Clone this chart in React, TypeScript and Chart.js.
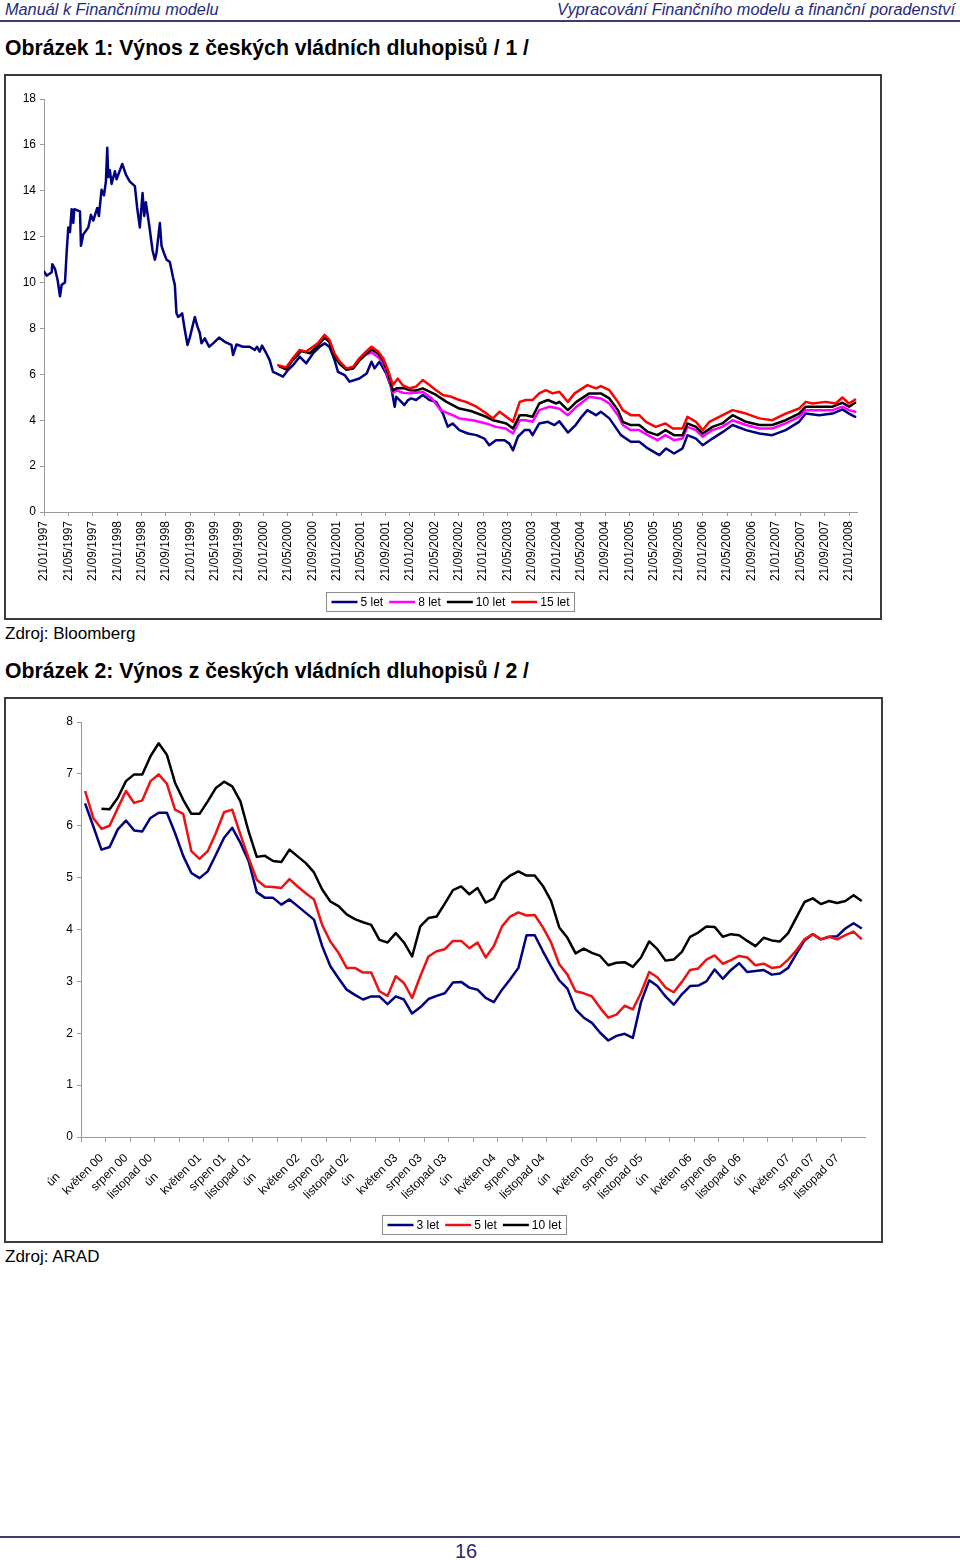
import React, { useEffect, useRef } from 'react';
import { Chart, registerables } from 'chart.js';

Chart.register(...registerables);

const FONT = '"Liberation Sans", Arial, Helvetica, sans-serif';

// ---------- Chart 1: daily yields 1997-2008 (x = months since 21/01/1997) ----------
const dateTickMonths = [0, 4, 8, 12, 16, 20, 24, 28, 32, 36, 40, 44, 48, 52, 56, 60, 64, 68, 72, 76, 80, 84, 88, 92, 96, 100, 104, 108, 112, 116, 120, 124, 128, 132];
const dateTickLabels = [
  '21/01/1997', '21/05/1997', '21/09/1997', '21/01/1998', '21/05/1998', '21/09/1998',
  '21/01/1999', '21/05/1999', '21/09/1999', '21/01/2000', '21/05/2000', '21/09/2000',
  '21/01/2001', '21/05/2001', '21/09/2001', '21/01/2002', '21/05/2002', '21/09/2002',
  '21/01/2003', '21/05/2003', '21/09/2003', '21/01/2004', '21/05/2004', '21/09/2004',
  '21/01/2005', '21/05/2005', '21/09/2005', '21/01/2006', '21/05/2006', '21/09/2006',
  '21/01/2007', '21/05/2007', '21/09/2007', '21/01/2008',
];

const let5: [number, number][] = [
  [0, 10.48], [0.44, 10.3], [1.26, 10.45], [1.36, 10.8], [1.8, 10.6], [2.24, 10.1], [2.62, 9.4], [2.89, 9.9], [3.44, 10.0], [3.71, 11.3],
  [3.98, 12.4], [4.26, 12.2], [4.53, 13.2], [4.8, 12.6], [4.97, 13.2], [5.9, 13.1], [6.06, 11.6], [6.44, 12.1], [7.26, 12.4], [7.7, 12.95],
  [8.08, 12.7], [8.73, 13.25], [9.0, 12.9], [9.44, 14.05], [9.83, 13.8], [10.15, 14.4], [10.37, 15.87], [10.53, 14.6], [10.8, 14.9], [11.08, 14.3],
  [11.63, 14.85], [11.9, 14.5], [12.83, 15.17], [13.43, 14.7], [14.08, 14.4], [14.9, 14.2], [15.28, 13.25], [15.72, 12.4], [16.16, 13.9], [16.43, 12.9],
  [16.7, 13.5], [17.25, 12.5], [17.8, 11.4], [18.18, 11.0], [18.45, 11.3], [19.0, 12.6], [19.27, 11.6], [19.65, 11.3], [20.09, 11.0], [20.63, 10.9],
  [21.18, 10.2], [21.45, 9.9], [21.72, 8.66], [22.0, 8.5], [22.65, 8.66], [23.09, 7.93], [23.53, 7.28], [23.9, 7.6], [24.34, 8.08], [24.73, 8.5],
  [25.16, 8.08], [25.55, 7.8], [25.82, 7.35], [26.36, 7.57], [27.07, 7.2], [27.73, 7.35], [28.71, 7.6], [29.64, 7.42], [30.73, 7.28], [31.0, 6.84],
  [31.55, 7.3], [32.64, 7.2], [33.73, 7.2], [34.55, 7.06], [34.93, 7.2], [35.37, 6.99], [35.75, 7.25], [36.46, 6.91], [37.0, 6.62], [37.55, 6.11],
  [38.1, 6.04], [39.19, 5.9], [40.0, 6.19], [40.83, 6.4], [41.92, 6.77], [43.0, 6.48], [44.1, 6.91], [45.2, 7.2], [46.0, 7.35], [46.8, 7.2],
  [47.65, 6.62], [48.2, 6.11], [49.3, 5.97], [50.1, 5.68], [51.7, 5.82], [52.9, 6.04], [53.7, 6.55], [54.2, 6.26], [55.0, 6.55], [56.1, 6.04],
  [56.9, 5.46], [57.5, 4.59], [57.75, 5.02], [58.3, 4.88], [59.1, 4.66], [59.7, 4.88], [60.2, 4.95], [61.0, 4.88], [62.1, 5.1], [63.2, 4.88],
  [64.3, 4.8], [65.4, 4.3], [66.2, 3.72], [67.0, 3.86], [68.1, 3.57], [69.5, 3.42], [70.9, 3.35], [72.2, 3.2], [73.0, 2.91], [74.1, 3.13],
  [75.5, 3.13], [76.3, 2.98], [76.9, 2.69], [77.7, 3.28], [78.8, 3.57], [79.6, 3.57], [80.1, 3.35], [81.2, 3.86], [82.6, 3.93], [83.7, 3.79],
  [84.5, 3.95], [85.9, 3.46], [87.2, 3.8], [88.0, 4.1], [89.1, 4.44], [90.5, 4.22], [91.3, 4.37], [92.7, 4.08], [94.6, 3.35], [96.2, 3.06],
  [97.6, 3.06], [99.0, 2.77], [100.9, 2.48], [102.0, 2.77], [103.3, 2.55], [104.7, 2.77], [105.5, 3.35], [106.9, 3.2], [108.0, 2.91], [109.6, 3.2],
  [111.3, 3.49], [112.9, 3.79], [115.1, 3.57], [117.3, 3.42], [119.4, 3.35], [121.6, 3.57], [123.8, 3.93], [124.9, 4.29], [127.1, 4.22], [129.3, 4.29],
  [130.9, 4.47], [132.0, 4.29], [133.0, 4.15],
];

const let8: [number, number][] = [
  [50.7, 6.28], [51.7, 6.62], [52.8, 6.86], [53.7, 6.95], [54.8, 6.75], [55.6, 6.5], [56.4, 5.9], [57.2, 5.2], [57.8, 5.3], [58.8, 5.2],
  [59.9, 5.17], [61.0, 5.2], [62.1, 5.24], [63.6, 4.95], [65.0, 4.44], [67.0, 4.22], [68.1, 4.08], [70.3, 4.0], [72.5, 3.86], [74.1, 3.71],
  [75.7, 3.64], [76.9, 3.42], [78.0, 4.0], [79.0, 4.0], [80.1, 3.93], [81.2, 4.44], [82.9, 4.59], [84.5, 4.5], [85.9, 4.22], [87.3, 4.59],
  [89.4, 5.02], [91.3, 4.95], [92.7, 4.73], [94.1, 4.22], [94.9, 3.79], [96.2, 3.57], [97.6, 3.57], [99.0, 3.35], [100.6, 3.13], [101.9, 3.35],
  [103.3, 3.13], [104.7, 3.2], [105.5, 3.71], [106.9, 3.57], [108.0, 3.28], [109.6, 3.57], [111.2, 3.71], [112.9, 4.0], [115.1, 3.79], [117.3, 3.64],
  [119.4, 3.64], [121.6, 3.86], [123.8, 4.15], [124.9, 4.44], [127.1, 4.44], [129.3, 4.44], [130.9, 4.59], [132.0, 4.44], [133.0, 4.37],
];

const let10: [number, number][] = [
  [38.6, 6.35], [39.7, 6.22], [40.8, 6.62], [42.2, 7.02], [43.6, 6.92], [44.9, 7.25], [46.0, 7.6], [46.8, 7.4], [47.65, 6.78], [48.5, 6.45],
  [49.6, 6.2], [50.7, 6.25], [51.7, 6.6], [52.8, 6.88], [53.7, 7.08], [54.8, 6.9], [55.6, 6.6], [56.4, 6.05], [57.2, 5.3], [57.8, 5.39],
  [59.0, 5.4], [59.9, 5.31], [61.0, 5.3], [62.1, 5.39], [63.2, 5.25], [64.3, 5.1], [66.0, 4.8], [68.1, 4.51], [70.0, 4.4], [72.5, 4.15],
  [73.6, 4.0], [74.7, 3.93], [75.8, 3.86], [76.9, 3.64], [78.0, 4.22], [79.0, 4.22], [80.1, 4.15], [81.2, 4.73], [82.6, 4.88], [84.0, 4.73],
  [84.5, 4.8], [85.9, 4.44], [87.3, 4.8], [89.4, 5.17], [91.3, 5.17], [92.7, 4.95], [94.1, 4.44], [94.9, 3.93], [96.2, 3.79], [97.6, 3.79],
  [99.0, 3.49], [100.6, 3.35], [101.9, 3.57], [103.3, 3.35], [104.7, 3.35], [105.5, 3.86], [106.9, 3.71], [108.0, 3.42], [109.6, 3.71], [111.2, 3.86],
  [112.9, 4.22], [115.1, 3.93], [117.3, 3.79], [119.4, 3.79], [121.6, 4.0], [123.8, 4.29], [124.9, 4.59], [127.1, 4.59], [129.3, 4.59], [130.9, 4.76],
  [132.0, 4.59], [133.0, 4.76],
];

const let15: [number, number][] = [
  [38.4, 6.4], [39.7, 6.3], [40.8, 6.7], [41.9, 7.06], [43.0, 6.99], [44.1, 7.2], [44.9, 7.35], [46.0, 7.72], [46.8, 7.5], [47.65, 6.9],
  [48.5, 6.55], [49.6, 6.26], [50.7, 6.33], [51.7, 6.7], [52.8, 6.99], [53.7, 7.2], [54.8, 6.99], [55.6, 6.7], [56.4, 6.19], [57.2, 5.53],
  [58.0, 5.82], [58.8, 5.53], [59.9, 5.39], [61.0, 5.46], [62.1, 5.75], [63.2, 5.53], [64.3, 5.31], [65.4, 5.1], [66.8, 5.02], [68.1, 4.88],
  [69.2, 4.8], [70.9, 4.59], [72.5, 4.3], [73.6, 4.08], [74.7, 4.37], [75.8, 4.15], [76.9, 3.93], [78.0, 4.8], [79.0, 4.88], [80.1, 4.88],
  [81.2, 5.17], [82.3, 5.31], [83.4, 5.17], [84.5, 5.24], [85.9, 4.8], [87.0, 5.17], [89.1, 5.53], [90.5, 5.39], [91.3, 5.49], [92.7, 5.31],
  [94.1, 4.8], [94.9, 4.44], [96.2, 4.22], [97.6, 4.22], [98.7, 3.93], [100.3, 3.71], [101.9, 3.86], [103.1, 3.64], [104.7, 3.64], [105.5, 4.15],
  [106.9, 3.93], [108.0, 3.57], [109.1, 3.93], [110.7, 4.15], [112.9, 4.44], [115.1, 4.29], [117.3, 4.08], [119.4, 4.0], [121.6, 4.29], [123.8, 4.51],
  [124.9, 4.8], [126.0, 4.73], [128.2, 4.8], [129.8, 4.73], [130.9, 4.99], [132.0, 4.73], [133.0, 4.9],
];

// ---------- Chart 2: monthly yields Feb 2000 - Jan 2008 ----------
const monthNames = ['leden', 'únor', 'březen', 'duben', 'květen', 'červen', 'červenec', 'srpen', 'září', 'říjen', 'listopad', 'prosinec'];
const yearSuffixes = ['00', '01', '02', '03', '04', '05', '06', '07', '08'];
const categories: string[] = [];
for (let k = 0; k < 96; k++) {
  const mi = (1 + k) % 12;
  const yi = Math.floor((1 + k) / 12);
  categories.push(monthNames[mi] + ' ' + yearSuffixes[yi]);
}

const yield3 = [
  6.43, 5.99, 5.54, 5.59, 5.93, 6.1, 5.91, 5.89, 6.15, 6.25, 6.25, 5.86, 5.42, 5.09, 4.99, 5.12, 5.44, 5.77, 5.96, 5.67,
  5.32, 4.72, 4.61, 4.61, 4.48, 4.58, 4.45, 4.32, 4.19, 3.68, 3.29, 3.06, 2.84, 2.74, 2.65, 2.71, 2.71, 2.56, 2.71, 2.65,
  2.38, 2.5, 2.66, 2.72, 2.77, 2.98, 2.99, 2.88, 2.84, 2.68, 2.6, 2.84, 3.04, 3.26, 3.89, 3.89, 3.58, 3.29, 3.02, 2.86,
  2.46, 2.3, 2.2, 2.01, 1.86, 1.95, 1.99, 1.91, 2.6, 3.02, 2.91, 2.71, 2.55, 2.75, 2.91, 2.92, 3.0, 3.23, 3.05, 3.22,
  3.35, 3.18, 3.2, 3.22, 3.13, 3.15, 3.26, 3.53, 3.79, 3.91, 3.81, 3.86, 3.87, 4.02, 4.12, 4.02,
];
const yield5 = [
  6.67, 6.15, 5.94, 6.0, 6.34, 6.67, 6.44, 6.49, 6.86, 6.99, 6.81, 6.31, 6.23, 5.51, 5.36, 5.51, 5.86, 6.26, 6.31, 5.83,
  5.38, 4.96, 4.83, 4.82, 4.8, 4.97, 4.83, 4.7, 4.58, 4.09, 3.77, 3.55, 3.26, 3.26, 3.17, 3.17, 2.81, 2.72, 3.1, 2.97,
  2.68, 3.1, 3.48, 3.58, 3.62, 3.78, 3.78, 3.64, 3.75, 3.46, 3.68, 4.06, 4.25, 4.33, 4.27, 4.28, 4.04, 3.75, 3.33, 3.13,
  2.81, 2.77, 2.71, 2.49, 2.3, 2.36, 2.53, 2.46, 2.78, 3.18, 3.08, 2.88, 2.79, 2.99, 3.22, 3.25, 3.42, 3.5, 3.34, 3.41,
  3.49, 3.46, 3.31, 3.34, 3.26, 3.28, 3.42, 3.6, 3.81, 3.91, 3.81, 3.86, 3.81, 3.89, 3.96, 3.81,
];
const yield10 = [
  null, null, 6.33, 6.32, 6.54, 6.86, 6.99, 6.99, 7.34, 7.59, 7.37, 6.83, 6.5, 6.23, 6.23, 6.47, 6.73, 6.85, 6.76, 6.47,
  5.89, 5.4, 5.42, 5.32, 5.3, 5.54, 5.41, 5.28, 5.1, 4.77, 4.54, 4.45, 4.29, 4.2, 4.14, 4.09, 3.8, 3.75, 3.93, 3.75,
  3.48, 4.06, 4.22, 4.25, 4.5, 4.76, 4.83, 4.68, 4.8, 4.52, 4.6, 4.91, 5.04, 5.12, 5.04, 5.04, 4.84, 4.55, 4.04, 3.84,
  3.54, 3.63, 3.55, 3.49, 3.31, 3.36, 3.37, 3.28, 3.46, 3.77, 3.62, 3.4, 3.42, 3.57, 3.86, 3.94, 4.06, 4.05, 3.86, 3.91,
  3.89, 3.78, 3.68, 3.84, 3.79, 3.77, 3.93, 4.23, 4.53, 4.6, 4.49, 4.55, 4.51, 4.55, 4.66, 4.55,
];

const AXIS_GREY = '#9a9a9a';

function makeLegend(top: number) {
  return {
    id: 'boxLegend',
    afterDraw(chart: any) {
      const ctx = chart.ctx as CanvasRenderingContext2D;
      ctx.save();
      ctx.font = '12px ' + FONT;
      const items = chart.data.datasets.map((d: any) => ({ label: d.label as string, color: d.borderColor as string }));
      const lineLen = 26, gap = 3, itemGap = 6, padX = 5, h = 19;
      const widths = items.map((it: any) => lineLen + gap + ctx.measureText(it.label).width);
      const total = widths.reduce((a: number, b: number) => a + b, 0) + itemGap * (items.length - 1) + padX * 2;
      const cx = (chart.chartArea.left + chart.chartArea.right) / 2;
      const left = Math.round(cx - total / 2) + 0.5;
      const t = top + 0.5;
      ctx.strokeStyle = '#8c8c8c';
      ctx.lineWidth = 1;
      ctx.strokeRect(left, t, Math.round(total), h);
      let x = left + padX;
      const yMid = t + h / 2;
      items.forEach((it: any, i: number) => {
        ctx.beginPath();
        ctx.strokeStyle = it.color;
        ctx.lineWidth = 2.5;
        ctx.moveTo(x, yMid);
        ctx.lineTo(x + lineLen, yMid);
        ctx.stroke();
        ctx.fillStyle = '#000';
        ctx.textBaseline = 'middle';
        ctx.textAlign = 'left';
        ctx.fillText(it.label, x + lineLen + gap, yMid + 0.5);
        x += widths[i] + itemGap;
      });
      ctx.restore();
    },
  };
}

const tickFont = { family: FONT, size: 12 };

function chart1Config(): any {
  const toPts = (arr: [number, number][]) => arr.map(([x, y]) => ({ x, y }));
  return {
    type: 'line',
    data: {
      datasets: [
        { label: '5 let', data: toPts(let5), borderColor: '#000080', order: 4 },
        { label: '8 let', data: toPts(let8), borderColor: '#ff00ff', order: 3 },
        { label: '10 let', data: toPts(let10), borderColor: '#000000', order: 2 },
        { label: '15 let', data: toPts(let15), borderColor: '#ff0000', order: 1 },
      ],
    },
    options: {
      responsive: false,
      animation: false,
      events: [],
      layout: { padding: { left: 0, right: 23, top: 23, bottom: 36 } },
      elements: {
        point: { radius: 0 },
        line: { borderWidth: 2.5, tension: 0, borderJoinStyle: 'round', borderCapStyle: 'round' },
      },
      plugins: { legend: { display: false }, tooltip: { enabled: false } },
      scales: {
        x: {
          type: 'linear',
          min: 0,
          max: 133.3,
          afterBuildTicks: (axis: any) => {
            axis.ticks = dateTickMonths.map((v) => ({ value: v }));
          },
          afterFit: (s: any) => { s.height = 70; },
          ticks: {
            autoSkip: false,
            minRotation: 90,
            maxRotation: 90,
            padding: 5,
            color: '#000',
            font: tickFont,
            callback: (v: number) => dateTickLabels[dateTickMonths.indexOf(v)] ?? '',
          },
          grid: { drawOnChartArea: false, drawTicks: true, tickLength: 4, color: AXIS_GREY },
          border: { display: true, color: AXIS_GREY, width: 1 },
        },
        y: {
          min: 0,
          max: 18,
          afterFit: (s: any) => { s.width = 38; },
          ticks: { stepSize: 2, padding: 4, color: '#000', font: tickFont },
          grid: { drawOnChartArea: false, drawTicks: true, tickLength: 4, color: AXIS_GREY },
          border: { display: true, color: AXIS_GREY, width: 1 },
        },
      },
    },
    plugins: [makeLegend(516)],
  };
}

// The "únor" labels are clipped to "ún" in the original; the trailing spaces keep
// the visible part where the beginning of the full label would sit.
function shortLabel(label: string) {
  return label.startsWith('únor') ? 'ún' + '\u00a0'.repeat(8) : label;
}

function chart2Config(): any {
  return {
    type: 'line',
    data: {
      labels: categories,
      datasets: [
        { label: '3 let', data: yield3, borderColor: '#000080', order: 3 },
        { label: '5 let', data: yield5, borderColor: '#ee1111', order: 2 },
        { label: '10 let', data: yield10, borderColor: '#000000', order: 1 },
      ],
    },
    options: {
      responsive: false,
      animation: false,
      events: [],
      layout: { padding: { left: 0, right: 13, top: 23, bottom: 34 } },
      elements: {
        point: { radius: 0 },
        line: { borderWidth: 2.5, tension: 0, borderJoinStyle: 'round' },
      },
      plugins: { legend: { display: false }, tooltip: { enabled: false } },
      scales: {
        x: {
          type: 'category',
          offset: true,
          afterFit: (s: any) => { s.height = 70; },
          ticks: {
            autoSkip: false,
            minRotation: 45,
            maxRotation: 45,
            padding: 9,
            labelOffset: -8,
            color: '#000',
            font: tickFont,
            callback: (_v: any, i: number) => (i % 3 === 0 ? shortLabel(categories[i]) : ''),
          },
          grid: {
            offset: true,
            drawOnChartArea: false,
            drawTicks: true,
            tickLength: 5,
            color: (c: any) => (c.index % 3 === 0 ? AXIS_GREY : 'rgba(0,0,0,0)'),
          },
          border: { display: true, color: AXIS_GREY, width: 1 },
        },
        y: {
          min: 0,
          max: 8,
          afterFit: (s: any) => { s.width = 75; },
          ticks: { stepSize: 1, padding: 4, color: '#000', font: tickFont },
          grid: { drawOnChartArea: false, drawTicks: true, tickLength: 4, color: AXIS_GREY },
          border: { display: true, color: AXIS_GREY, width: 1 },
        },
      },
    },
    plugins: [makeLegend(516)],
  };
}

const NAVY = '#1f2a7a';

function Txt(props: { left?: number; right?: number; baseline: number; size: number; bold?: boolean; italic?: boolean; color?: string; children: React.ReactNode }) {
  const { left, right, baseline, size, bold, italic, color, children } = props;
  const style: React.CSSProperties = {
    position: 'absolute',
    top: baseline - 0.8465 * size,
    fontSize: size,
    lineHeight: size + 'px',
    fontWeight: bold ? 700 : 400,
    fontStyle: italic ? 'italic' : 'normal',
    color: color || '#000',
    whiteSpace: 'nowrap',
    fontFamily: FONT,
  };
  if (left !== undefined) style.left = left;
  if (right !== undefined) style.right = right;
  return <div style={style}>{children}</div>;
}

export default function App() {
  const ref1 = useRef<HTMLCanvasElement>(null);
  const ref2 = useRef<HTMLCanvasElement>(null);

  useEffect(() => {
    document.body.style.margin = '0';
    const c1 = new Chart(ref1.current as HTMLCanvasElement, chart1Config());
    const c2 = new Chart(ref2.current as HTMLCanvasElement, chart2Config());
    return () => {
      c1.destroy();
      c2.destroy();
    };
  }, []);

  const box = (top: number, width: number): React.CSSProperties => ({
    position: 'absolute',
    left: 4,
    top,
    width,
    height: 546,
    border: '2px solid #3c3c3c',
    boxSizing: 'border-box',
    background: '#fff',
  });

  return (
    <div style={{ position: 'relative', width: 960, height: 1560, background: '#fff', fontFamily: FONT, overflow: 'hidden' }}>
      <Txt left={5} baseline={14.5} size={16.3} italic color={NAVY}>Manuál k Finančnímu modelu</Txt>
      <Txt right={5} baseline={14.5} size={16.3} italic color={NAVY}>Vypracování Finančního modelu a finanční poradenství</Txt>
      <div style={{ position: 'absolute', left: 0, top: 20, width: 960, height: 2, background: '#3d3d6b' }} />

      <Txt left={5} baseline={55} size={21.2} bold>Obrázek 1: Výnos z českých vládních dluhopisů / 1 /</Txt>
      <div style={box(74, 878)}>
        <canvas ref={ref1} width={874} height={542} style={{ display: 'block' }} />
      </div>
      <Txt left={5} baseline={639} size={17}>Zdroj: Bloomberg</Txt>

      <Txt left={5} baseline={678} size={21.2} bold>Obrázek 2: Výnos z českých vládních dluhopisů / 2 /</Txt>
      <div style={box(697, 879)}>
        <canvas ref={ref2} width={875} height={542} style={{ display: 'block' }} />
      </div>
      <Txt left={5} baseline={1262} size={17}>Zdroj: ARAD</Txt>

      <div style={{ position: 'absolute', left: 0, top: 1536, width: 960, height: 2, background: '#3d3d6b' }} />
      <Txt left={455} baseline={1558} size={20} color={NAVY}>16</Txt>
    </div>
  );
}
